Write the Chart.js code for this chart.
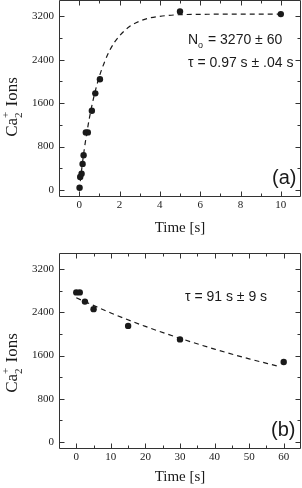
<!DOCTYPE html>
<html>
<head>
<meta charset="utf-8">
<script src="https://cdn.jsdelivr.net/npm/chart.js@4.4.1/dist/chart.umd.min.js"></script>
<style>
  html, body { margin: 0; padding: 0; background: #fff; }
  body { width: 302px; height: 488px; position: relative; overflow: hidden; }
  canvas { position: absolute; left: 0; }
  #chartA { top: 0; }
  #chartB { top: 240px; }
</style>
</head>
<body>
<canvas id="chartA" width="302" height="240"></canvas>
<canvas id="chartB" width="302" height="248"></canvas>
<script>
// panel (a): ions loaded vs time
const timeA = [0.02, 0.05, 0.12, 0.17, 0.22, 0.33, 0.43, 0.63, 0.8, 1.03, 5, 10]
const ionsA = [40, 240, 300, 480, 640, 1060, 1060, 1460, 1780, 2040, 3290, 3240]
const fitTimeA = [0, 0.25, 0.5, 0.75, 1, 1.25, 1.5, 1.75, 2, 2.5, 3, 3.5, 4, 5, 6, 7, 8, 9, 10]
const fitIonsA = [0, 740, 1310, 1750, 2090, 2350, 2560, 2720, 2840, 3010, 3110, 3170, 3200, 3230, 3235, 3240, 3240, 3240, 3240]
const xTicksA = [0, 2, 4, 6, 8, 10]
const xMinorA = [1, 3, 5, 7, 9]

// panel (b): ions lost vs time
const timeB = [0, 1, 2.5, 5, 15, 30, 60]
const ionsB = [2770, 2770, 2600, 2460, 2150, 1900, 1480]
const fitTimeB = [0, 10, 20, 30, 40, 50, 58]
const fitIonsB = [2670, 2390, 2140, 1920, 1720, 1540, 1410]
const xTicksB = [0, 10, 20, 30, 40, 50, 60]
const xMinorB = [5, 15, 25, 35, 45, 55]

const yTicks = [0, 800, 1600, 2400, 3200]
const yMinor = [400, 1200, 2000, 2800]

const SERIF = '"Liberation Serif", "DejaVu Serif", serif'
const SANS = '"Liberation Sans", Arial, sans-serif'
const INK = '#1a1a1a'

function toPoints(xs, ys) {
    return xs.map((x, i) => ({ x: x, y: ys[i] }))
}

// text with sub / superscripts, parts = [{t, sub, sup}]
function partWidth(ctx, p, size, family) {
    if (!p.sub && !p.sup) {
        ctx.font = size + 'px ' + family
        return ctx.measureText(p.t).width
    }
    ctx.font = Math.round(size * 0.62) + 'px ' + family
    const a = p.sub ? ctx.measureText(p.sub).width : 0
    const b = p.sup ? ctx.measureText(p.sup).width : 0
    return Math.max(a, b) + 1
}

function drawParts(ctx, parts, x, y, size, family, center) {
    let total = 0
    parts.forEach(p => total += partWidth(ctx, p, size, family))
    let cx = center ? x - total / 2 : x
    ctx.textAlign = 'left'
    ctx.textBaseline = 'alphabetic'
    parts.forEach(p => {
        const w = partWidth(ctx, p, size, family)
        if (!p.sub && !p.sup) {
            ctx.font = size + 'px ' + family
            ctx.fillText(p.t, cx, y)
        } else {
            ctx.font = Math.round(size * 0.62) + 'px ' + family
            if (p.sub) ctx.fillText(p.sub, cx, y + size * 0.3)
            if (p.sup) ctx.fillText(p.sup, cx, y - size * 0.5)
        }
        cx += w
    })
}

const frameTicks = {
    id: 'frameTicks',
    afterDraw(chart, args, opts) {
        const ctx = chart.ctx
        const a = chart.chartArea
        const xs = chart.scales.x
        const ys = chart.scales.y
        const L = Math.round(a.left) + 0.5
        const R = Math.round(a.right) - 0.5
        const T = Math.round(a.top) + 0.5
        const B = Math.round(a.bottom) - 0.5
        ctx.save()
        ctx.strokeStyle = '#333'
        ctx.lineWidth = 1
        ctx.beginPath()
        ctx.rect(L, T, R - L, B - T)
        const tickX = (vals, len) => vals.forEach(v => {
            const px = Math.round(xs.getPixelForValue(v)) + 0.5
            ctx.moveTo(px, B); ctx.lineTo(px, B - len)
            ctx.moveTo(px, T); ctx.lineTo(px, T + len)
        })
        const tickY = (vals, len) => vals.forEach(v => {
            const py = Math.round(ys.getPixelForValue(v)) + 0.5
            ctx.moveTo(L, py); ctx.lineTo(L + len, py)
            ctx.moveTo(R, py); ctx.lineTo(R - len, py)
        })
        tickX(opts.xMajor, 5)
        tickX(opts.xMinor, 3)
        tickY(yTicks, 5)
        tickY(yMinor, 3)
        ctx.stroke()

        ctx.fillStyle = INK
        // x title
        drawParts(ctx, [{ t: 'Time [s]' }], (a.left + a.right) / 2, opts.xTitleY, 15, SERIF, true)
        // y title, rotated
        ctx.save()
        ctx.translate(17, opts.yTitleY)
        ctx.rotate(-Math.PI / 2)
        drawParts(ctx, [{ t: 'Ca' }, { sub: '2', sup: '+' }, { t: ' Ions' }], 0, 0, 17, SERIF, true)
        ctx.restore()
        // fit notes
        opts.notes.forEach(n => drawParts(ctx, n.parts, n.x, n.y, 14, SANS, false))
        // panel tag
        ctx.font = '20px ' + SANS
        ctx.textAlign = 'left'
        ctx.fillText(opts.tag, opts.tagX, opts.tagY)
        ctx.restore()
    }
}

function makeChart(id, pts, fit, xMin, xMax, xMajor, padTop, xHeight, plug) {
    return new Chart(document.getElementById(id), {
        type: 'scatter',
        data: {
            datasets: [{
                data: fit,
                showLine: true,
                borderColor: INK,
                borderWidth: 1.2,
                borderDash: [5, 4],
                pointRadius: 0,
                cubicInterpolationMode: 'monotone'
            }, {
                data: pts,
                pointRadius: 3.2,
                pointBackgroundColor: INK,
                pointBorderWidth: 0
            }]
        },
        options: {
            responsive: false,
            animation: false,
            layout: { autoPadding: false, padding: { top: padTop, right: 1, left: 0, bottom: 0 } },
            plugins: { legend: { display: false }, tooltip: { enabled: false }, frameTicks: plug },
            scales: {
                x: {
                    type: 'linear', min: xMin, max: xMax,
                    afterBuildTicks: s => { s.ticks = xMajor.map(v => ({ value: v })) },
                    afterFit: s => { s.height = xHeight; s.paddingLeft = 0; s.paddingRight = 0 },
                    grid: { display: false, drawTicks: false },
                    border: { display: false },
                    ticks: { color: INK, padding: 2, font: { family: SERIF, size: 11 }, callback: v => String(v) }
                },
                y: {
                    type: 'linear', min: -130, max: 3500,
                    afterBuildTicks: s => { s.ticks = yTicks.map(v => ({ value: v })) },
                    afterFit: s => { s.width = 59; s.paddingTop = 0; s.paddingBottom = 0 },
                    grid: { display: false, drawTicks: false },
                    border: { display: false },
                    ticks: { color: INK, padding: 5, font: { family: SERIF, size: 11 }, callback: v => String(v) }
                }
            }
        },
        plugins: [frameTicks]
    })
}

makeChart('chartA', toPoints(timeA, ionsA), toPoints(fitTimeA, fitIonsA), -1, 11, xTicksA, 0, 43, {
    xMajor: xTicksA, xMinor: xMinorA, xTitleY: 232, yTitleY: 107,
    tag: '(a)', tagX: 272, tagY: 184,
    notes: [
        { x: 188, y: 44, parts: [{ t: 'N' }, { sub: 'o' }, { t: ' = 3270 ± 60' }] },
        { x: 188, y: 67, parts: [{ t: 'τ = 0.97 s ± .04 s' }] }
    ]
})

makeChart('chartB', toPoints(timeB, ionsB), toPoints(fitTimeB, fitIonsB), -5, 65, xTicksB, 13, 39, {
    xMajor: xTicksB, xMinor: xMinorB, xTitleY: 241, yTitleY: 123,
    tag: '(b)', tagX: 271, tagY: 196,
    notes: [
        { x: 185, y: 61, parts: [{ t: 'τ = 91 s ± 9 s' }] }
    ]
})
</script>
</body>
</html>
